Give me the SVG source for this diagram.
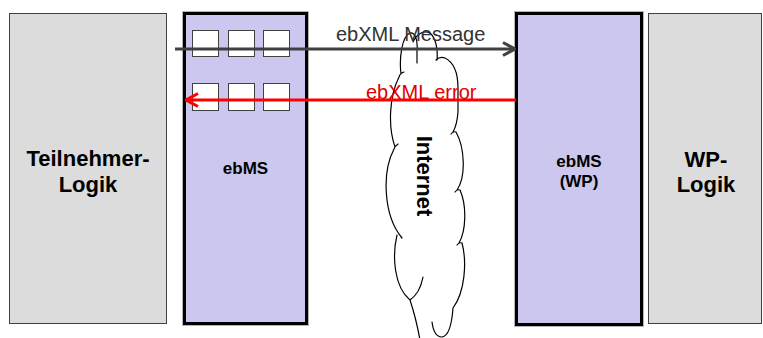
<svg xmlns="http://www.w3.org/2000/svg" width="763" height="338" viewBox="0 0 763 338">
  <defs>
    <style>
      .logic { fill: #dcdcdc; stroke: #404040; stroke-width: 1; }
      .ms { fill: #cbc7ef; stroke: #000; stroke-width: 3; }
      .ms-edge { fill: none; stroke: #b4b4b4; stroke-width: 1; }
      .slot { fill: #fff; stroke: #404040; stroke-width: 1; }
      .cloud { fill: none; stroke: #000; stroke-width: 1.2; stroke-linecap: round; }
      .big { font-family: "Liberation Sans", Arial, sans-serif; font-weight: bold; font-size: 22px; fill: #000; text-anchor: middle; }
      .mid { font-family: "Liberation Sans", Arial, sans-serif; font-weight: bold; font-size: 17px; fill: #000; text-anchor: middle; }
      .lbl { font-family: "Liberation Sans", Arial, sans-serif; font-size: 20px; }
    </style>
    <marker id="head-grey" markerUnits="userSpaceOnUse" viewBox="0 0 14 16" refX="13" refY="8" markerWidth="14" markerHeight="16" orient="auto">
      <path d="M1,1.5 L13,8 L1,14.5" fill="none" stroke="#404040" stroke-width="3"/>
    </marker>
    <marker id="head-red" markerUnits="userSpaceOnUse" viewBox="0 0 14 16" refX="13" refY="8" markerWidth="14" markerHeight="16" orient="auto">
      <path d="M1,1.5 L13,8 L1,14.5" fill="none" stroke="#ff0000" stroke-width="3"/>
    </marker>
  </defs>

  <rect width="763" height="338" fill="#fff"/>

  <!-- participant side logic -->
  <g id="teilnehmer-logik">
    <rect class="logic" x="9.5" y="13.5" width="157" height="310"/>
    <text class="big" x="88" y="166">Teilnehmer-</text>
    <text class="big" x="88" y="192">Logik</text>
  </g>

  <!-- local message service with queue slots -->
  <g id="ebms">
    <rect class="ms-edge" x="182.5" y="11.5" width="126" height="314"/>
    <rect class="ms" x="184.5" y="13.5" width="122" height="310"/>
    <rect class="slot" x="192.5" y="30.5" width="26" height="26"/>
    <rect class="slot" x="228.5" y="30.5" width="26" height="26"/>
    <rect class="slot" x="263.5" y="30.5" width="26" height="26"/>
    <rect class="slot" x="192.5" y="83.5" width="26" height="27"/>
    <rect class="slot" x="228.5" y="83.5" width="26" height="27"/>
    <rect class="slot" x="263.5" y="83.5" width="26" height="27"/>
    <text class="mid" x="245.5" y="174">ebMS</text>
  </g>

  <!-- internet cloud -->
  <g id="internet">
    <path class="cloud" d="
      M401 74 C399 58 402 36 410 33 C415 32 418 40 417 50 L417 63
      M413 42 C417 33 425 30 430 33 C436 38 438 50 437 60
      M436 60 Q440 56 445 58 C453 62 458 72 458 88 L458 112 Q457 125 453 132
      M404 72 Q400 73 399 77 C389 97 388 127 395 147
      M398 144 Q395 146 394 149 C382 172 383 215 402 238
      M397 235 C392 256 394 287 410 300
      M410 300 Q416 318 420 340
      M423 277 Q420 293 410 300
      M451 134 Q453 131 456 132 C465 148 466 177 457 190
      M455 192 Q457 189 460 190 C467 206 466 231 459 243
      M457 245 Q459 242 462 243 C467 262 465 292 453 308
      M453 308 C452 322 449 336 442 337 C436 337 433 330 432 322"/>
    <text class="big" transform="translate(417 176) rotate(90)" x="0" y="0">Internet</text>
  </g>

  <!-- remote message service -->
  <g id="ebms-wp">
    <rect class="ms-edge" x="514.5" y="11.5" width="129" height="315"/>
    <rect class="ms" x="516.5" y="13.5" width="125" height="311"/>
    <text class="mid" x="579" y="167">ebMS</text>
    <text class="mid" x="579" y="187">(WP)</text>
  </g>

  <!-- remote logic -->
  <g id="wp-logik">
    <rect class="logic" x="648.5" y="13.5" width="113" height="310"/>
    <text class="big" x="706" y="167">WP-</text>
    <text class="big" x="706" y="192">Logik</text>
  </g>

  <!-- message flows -->
  <g id="connectors">
    <line x1="175" y1="49" x2="515" y2="49" stroke="#404040" stroke-width="3" marker-end="url(#head-grey)"/>
    <line x1="516" y1="100" x2="186" y2="100" stroke="#ff0000" stroke-width="3" marker-end="url(#head-red)"/>
    <text class="lbl" x="336" y="41" fill="#333">ebXML Message</text>
    <text class="lbl" x="366" y="99" fill="#e00000">ebXML error</text>
  </g>
</svg>
